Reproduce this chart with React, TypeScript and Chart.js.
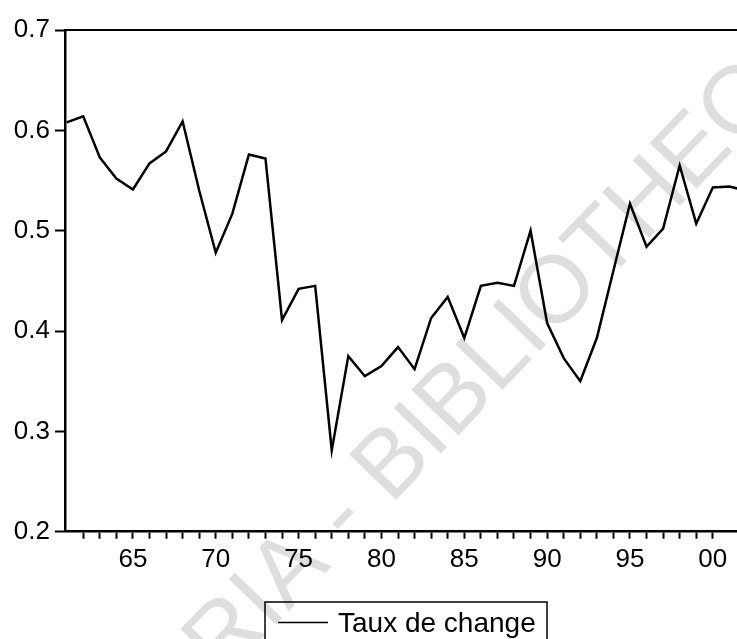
import React, { useEffect, useRef } from "react";
import { Chart, registerables } from "chart.js";

Chart.register(...registerables);

const years: number[] = [
  1961, 1962, 1963, 1964, 1965, 1966, 1967, 1968, 1969, 1970,
  1971, 1972, 1973, 1974, 1975, 1976, 1977, 1978, 1979, 1980,
  1981, 1982, 1983, 1984, 1985, 1986, 1987, 1988, 1989, 1990,
  1991, 1992, 1993, 1994, 1995, 1996, 1997, 1998, 1999, 2000,
  2001, 2002,
];

const tauxDeChange: number[] = [
  0.608, 0.614, 0.573, 0.552, 0.541, 0.567, 0.579, 0.609, 0.540, 0.478,
  0.517, 0.576, 0.572, 0.411, 0.442, 0.445, 0.281, 0.375, 0.355, 0.365,
  0.384, 0.362, 0.413, 0.434, 0.393, 0.445, 0.448, 0.445, 0.500, 0.408,
  0.373, 0.350, 0.393, 0.460, 0.527, 0.484, 0.502, 0.565, 0.507, 0.543,
  0.544, 0.540,
];

const seriesLabel = "Taux de change";
const watermarkText = "RIA - BIBLIOTHEQUE";
const yTickValues: number[] = [0.2, 0.3, 0.4, 0.5, 0.6, 0.7];

const FONT = "'Liberation Sans', Arial, sans-serif";

export default function App() {
  const ref = useRef<HTMLCanvasElement | null>(null);

  useEffect(() => {
    if (!ref.current) return;

    const watermark = {
      id: "watermark",
      beforeDraw(chart: any) {
        const ctx = chart.ctx;
        ctx.save();
        ctx.translate(222, 680);
        ctx.rotate((-46 * Math.PI) / 180);
        ctx.font = `95px ${FONT}`;
        ctx.fillStyle = "#dedede";
        ctx.textAlign = "left";
        ctx.textBaseline = "alphabetic";
        ctx.fillText(watermarkText, 0, 0);
        ctx.restore();
      },
    };

    const frame = {
      id: "frame",
      afterDraw(chart: any) {
        const ctx = chart.ctx;
        const a = chart.chartArea;
        ctx.save();
        ctx.strokeStyle = "#000";
        ctx.lineWidth = 2;
        ctx.beginPath();
        ctx.moveTo(a.left - 1, a.top);
        ctx.lineTo(chart.width, a.top);
        ctx.stroke();

        // legend box
        ctx.lineWidth = 1.5;
        ctx.beginPath();
        ctx.rect(265, 602, 282, 60);
        ctx.stroke();
        const ds = chart.data.datasets[0];
        ctx.lineWidth = 1.5;
        ctx.strokeStyle = ds.borderColor;
        ctx.beginPath();
        ctx.moveTo(278, 622.5);
        ctx.lineTo(328, 622.5);
        ctx.stroke();
        ctx.fillStyle = "#000";
        ctx.font = `28px ${FONT}`;
        ctx.textAlign = "left";
        ctx.textBaseline = "alphabetic";
        ctx.fillText(ds.label, 338, 632);
        ctx.restore();
      },
    };

    const chart = new Chart(ref.current, {
      type: "line",
      data: {
        labels: years,
        datasets: [
          {
            label: seriesLabel,
            data: years.map((y, i) => ({ x: y, y: tauxDeChange[i] })),
            borderColor: "#000",
            borderWidth: 2.5,
            pointRadius: 0,
            tension: 0,
            fill: false,
          },
        ],
      },
      options: {
        animation: false,
        responsive: true,
        maintainAspectRatio: false,
        layout: { padding: { top: 30, right: 0, bottom: 0, left: 0 } },
        plugins: {
          legend: { display: false },
          tooltip: { enabled: false },
        },
        scales: {
          x: {
            type: "linear",
            min: 1960.9,
            max: 2001.46,
            afterBuildTicks: (scale: any) => {
              scale.ticks = scale.ticks.filter((t: any) => Number.isInteger(t.value));
            },
            afterFit: (scale: any) => {
              scale.height = 107.3;
            },
            ticks: {
              stepSize: 1,
              autoSkip: false,
              maxRotation: 0,
              minRotation: 0,
              padding: 6,
              color: "#000",
              font: { family: FONT, size: 26 },
              callback: (v: any) => {
                const n = Number(v);
                if (!Number.isInteger(n) || n % 5 !== 0) return "";
                return String(n % 100).padStart(2, "0");
              },
            },
            grid: {
              drawOnChartArea: false,
              drawTicks: true,
              tickLength: 7,
              tickWidth: 2,
              tickColor: "#000",
            },
            border: { display: true, color: "#000", width: 2.5 },
          },
          y: {
            type: "linear",
            min: 0.2,
            max: 0.7,
            afterBuildTicks: (scale: any) => {
              scale.ticks = yTickValues.map((v) => ({ value: v }));
            },
            afterFit: (scale: any) => {
              scale.width = 65;
            },
            ticks: {
              padding: 5,
              color: "#000",
              font: { family: FONT, size: 26 },
              callback: (v: any) => Number(v).toFixed(1),
            },
            grid: {
              drawOnChartArea: false,
              drawTicks: true,
              tickLength: 10,
              tickWidth: 2,
              tickColor: "#000",
            },
            border: { display: true, color: "#000", width: 2.5 },
          },
        },
      },
      plugins: [watermark, frame],
    });

    return () => chart.destroy();
  }, []);

  return (
    <div
      style={{
        position: "fixed",
        left: 0,
        top: 0,
        width: 737,
        height: 639,
        background: "#fff",
      }}
    >
      <canvas ref={ref} />
    </div>
  );
}
